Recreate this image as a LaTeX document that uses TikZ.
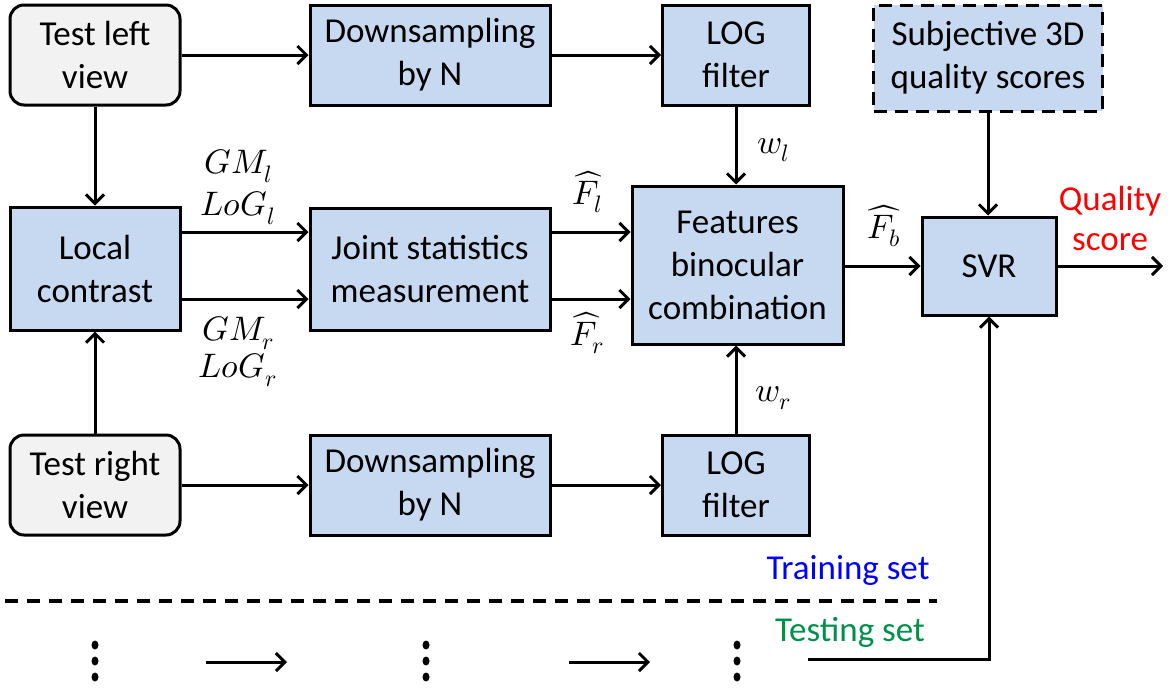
\documentclass[tikz,border=0pt]{standalone}
\usepackage{fontspec}
\usepackage{unicode-math}
\setmainfont{Carlito}
\setmathfont{Latin Modern Math}
\usetikzlibrary{arrows.meta}
\definecolor{boxblue}{HTML}{C6D9F1}
\definecolor{boxgrey}{HTML}{F2F2F2}
\definecolor{tgreen}{HTML}{00904A}
\begin{document}
\begin{tikzpicture}[x=1pt,y=-1pt,
  every node/.style={font=\fontsize{35}{43}\selectfont, align=center, inner sep=0pt},
  blk/.style={draw, line width=3pt, fill=boxblue},
  src/.style={draw, line width=3pt, fill=boxgrey, rounded corners=14pt},
  arr/.style={line width=3pt, -{Straight Barb[length=9pt,width=18pt,line width=3pt]}},
  lab/.style={font=\fontsize{34}{40}\selectfont},
  dotfill/.style={fill=black}]
\useasboundingbox (0,0) rectangle (1173,689);
% boxes
\node[src, minimum width=170pt, minimum height=100pt] (tl) at (95,55) {Test left\\view};
\node[blk, minimum width=240pt, minimum height=100pt] (ds1) at (430,55) {Downsampling\\by N};
\node[blk, minimum width=147pt, minimum height=100pt] (lg1) at (736,55) {LOG\\filter};
\node[blk, dashed, dash pattern=on 13pt off 8pt, minimum width=229pt, minimum height=106pt] (sub) at (988,58) {Subjective 3D\\quality scores};
\node[blk, minimum width=170pt, minimum height=123pt] (lc) at (95,268.5) {Local\\contrast};
\node[blk, minimum width=240pt, minimum height=122pt] (js) at (430,269) {Joint statistics\\measurement};
\node[blk, minimum width=211pt, minimum height=158pt] (fb) at (737.5,265) {Features\\binocular\\combination};
\node[blk, minimum width=134pt, minimum height=98pt] (svr) at (989,266) {SVR};
\node[src, minimum width=170pt, minimum height=100pt] (tr) at (95,485) {Test right\\view};
\node[blk, minimum width=240pt, minimum height=100pt] (ds2) at (430,485) {Downsampling\\by N};
\node[blk, minimum width=147pt, minimum height=100pt] (lg2) at (736,485) {LOG\\filter};
% helper coordinates
\coordinate (r1) at (0,232);
\coordinate (r2) at (0,299);
\coordinate (out) at (1163,266);
\coordinate (tst) at (808,659);
\coordinate (d1) at (5,601);
\coordinate (d2) at (937,601);
% connectors
\draw[arr] (tl) -- (ds1);
\draw[arr] (ds1) -- (lg1);
\draw[arr] (lg1.south) -- (lg1.south |- fb.north);
\draw[arr] (sub.south) -- (sub.south |- svr.north);
\draw[arr] (tl) -- (lc);
\draw[arr] (tr) -- (lc);
\draw[arr] (lc.east |- r1) -- (js.west |- r1);
\draw[arr] (lc.east |- r2) -- (js.west |- r2);
\draw[arr] (js.east |- r1) -- (fb.west |- r1);
\draw[arr] (js.east |- r2) -- (fb.west |- r2);
\draw[arr] (fb.east |- svr) -- (svr.west);
\draw[arr] (svr) -- (out);
\draw[arr] (lg2.north) -- (lg2.north |- fb.south);
\draw[arr] (tr) -- (ds2);
\draw[arr] (ds2) -- (lg2);
\draw[arr] (tst) -| (svr.south);
\draw[line width=3.5pt, dash pattern=on 13pt off 9pt] (d1) -- (d2);
% labels
\node[lab] (gml) at (238,166) {$GM_l$};
\node[lab] (logl) at (238,208) {$LoG_l$};
\node[lab] (gmr) at (238,333) {$GM_r$};
\node[lab] (logr) at (238,370) {$LoG_r$};
\node[lab] (fl) at (587,192) {$\widehat{F}_l$};
\node[lab] (fr) at (587,333) {$\widehat{F}_r$};
\node[lab] (wl) at (773,150) {$w_l$};
\node[lab] (wr) at (773,398) {$w_r$};
\node[lab] (fbh) at (884,226) {$\widehat{F_b}$};
\node[text=red, font=\fontsize{35}{40}\selectfont] (qs) at (1110,218) {Quality\\score};
\node[text=blue] (train) at (848,570) {Training set};
\node[text=tgreen] (test) at (850,632) {Testing set};
% testing-set pipeline (dots and arrows)
\foreach \x/\n in {95/v1, 426/v2, 737/v3}{
  \coordinate (\n) at (\x,661);
  \fill[dotfill] (\x,645) ellipse [x radius=3.5pt, y radius=4.5pt];
  \fill[dotfill] (\x,661) ellipse [x radius=3.5pt, y radius=4.5pt];
  \fill[dotfill] (\x,677) ellipse [x radius=3.5pt, y radius=4.5pt];
}
\coordinate (a1s) at (206,662);
\coordinate (a1e) at (287,662);
\coordinate (a2s) at (569,662);
\coordinate (a2e) at (650,662);
\draw[arr] (a1s) -- (a1e);
\draw[arr] (a2s) -- (a2e);
\end{tikzpicture}
\end{document}
